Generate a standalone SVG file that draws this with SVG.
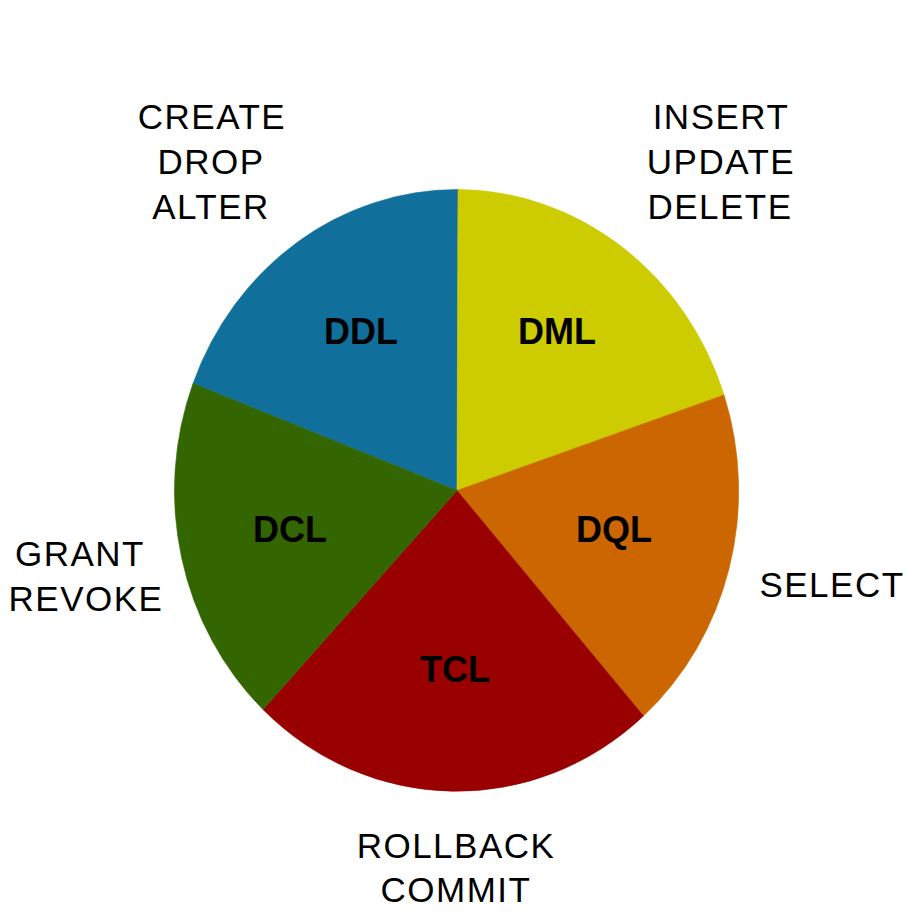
<svg xmlns="http://www.w3.org/2000/svg" width="906" height="913" viewBox="0 0 906 913">
<style>
.lbl{font-family:"Liberation Sans",Arial,sans-serif;font-size:35px;letter-spacing:1.5px;fill:#000;text-anchor:middle}
.in{font-family:"Liberation Sans",Arial,sans-serif;font-size:36px;font-weight:bold;fill:#000;text-anchor:middle}
</style>
<rect width="906" height="913" fill="#ffffff"/>
<g id="pie">
<g id="ddl"><path d="M457,490.5 L193,383.5 A282.5,301 0 0 1 458,189.5 Z" fill="#11709b" stroke="#11709b" stroke-width="0.6"/><text class="in" x="361" y="344">DDL</text></g>
<g id="dml"><path d="M457,490.5 L458,189.5 A282.5,301 0 0 1 724,395 Z" fill="#cccc00" stroke="#cccc00" stroke-width="0.6"/><text class="in" x="557" y="344">DML</text></g>
<g id="dql"><path d="M457,490.5 L724,395 A282.5,301 0 0 1 643.5,716 Z" fill="#cc6600" stroke="#cc6600" stroke-width="0.6"/><text class="in" x="614" y="542">DQL</text></g>
<g id="tcl"><path d="M457,490.5 L643.5,716 A282.5,301 0 0 1 263,709.5 Z" fill="#990000" stroke="#990000" stroke-width="0.6"/><text class="in" x="455" y="682">TCL</text></g>
<g id="dcl"><path d="M457,490.5 L263,709.5 A282.5,301 0 0 1 193,383.5 Z" fill="#336600" stroke="#336600" stroke-width="0.6"/><text class="in" x="290" y="542">DCL</text></g>
</g>
<g id="connectors"></g>
<g id="ddl-cmds"><text class="lbl" x="212" y="129">CREATE</text><text class="lbl" x="211" y="174">DROP</text><text class="lbl" x="211" y="219">ALTER</text></g>
<g id="dml-cmds"><text class="lbl" x="721" y="129">INSERT</text><text class="lbl" x="721" y="174">UPDATE</text><text class="lbl" x="720" y="219">DELETE</text></g>
<g id="dcl-cmds"><text class="lbl" x="80" y="566">GRANT</text><text class="lbl" x="86" y="611">REVOKE</text></g>
<g id="dql-cmds"><text class="lbl" x="832" y="597">SELECT</text></g>
<g id="tcl-cmds"><text class="lbl" x="456" y="858">ROLLBACK</text><text class="lbl" x="456" y="902">COMMIT</text></g>
</svg>
